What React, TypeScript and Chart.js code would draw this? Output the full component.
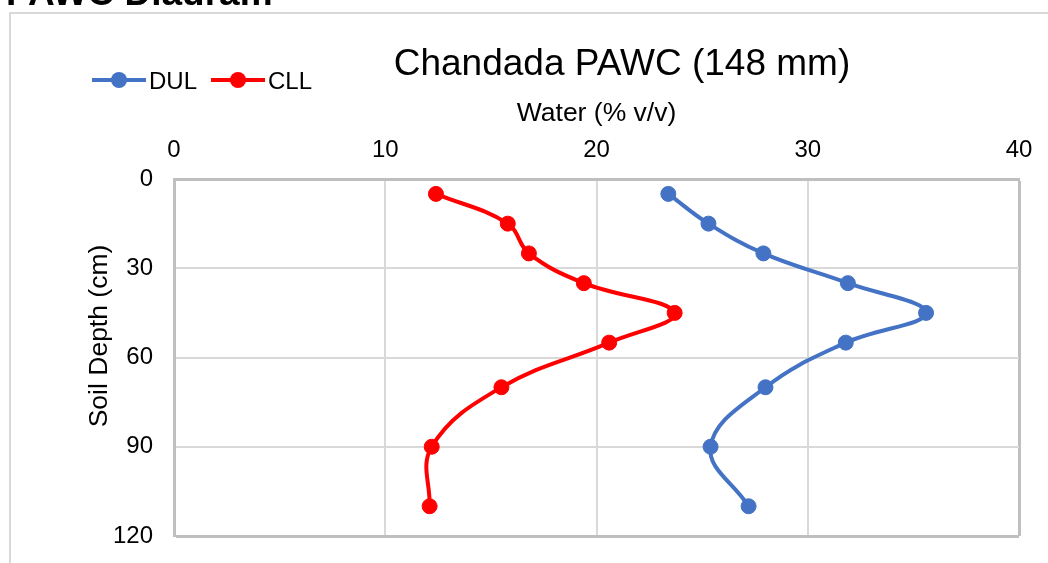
import React, { useEffect, useRef } from "react";
import { Chart, registerables } from "chart.js";

Chart.register(...registerables);

// ---- data ----
const depths = [5, 15, 25, 35, 45, 55, 70, 90, 110];
const dulValues = [23.4, 25.3, 27.9, 31.9, 35.6, 31.8, 28.0, 25.4, 27.2];
const cllValues = [12.4, 15.8, 16.8, 19.4, 23.7, 20.6, 15.5, 12.2, 12.1];
const seriesLabels = ["DUL", "CLL"];
const seriesColors = ["#4472C4", "#FF0000"];
const xTicks = [0, 10, 20, 30, 40];
const yTicks = [0, 30, 60, 90, 120];
const chartTitle = "Chandada PAWC (148 mm)";
const xTitle = "Water (% v/v)";
const yTitle = "Soil Depth (cm)";
const heading = "PAWC Diagram";

const FONT = "'Liberation Sans', Arial, Helvetica, sans-serif";
const W = 1048;
const H = 563;

const overlayPlugin = {
  id: "overlay",
  afterDraw(chart: any) {
    const ctx = chart.ctx as CanvasRenderingContext2D;
    ctx.save();
    // chart title
    ctx.fillStyle = "#000000";
    ctx.font = `37px ${FONT}`;
    ctx.textAlign = "center";
    ctx.textBaseline = "alphabetic";
    ctx.fillText(chartTitle, 622, 74.5);

    // legend
    const legendStarts = [92, 211];
    chart.data.datasets.forEach((ds: any, i: number) => {
      const x0 = legendStarts[i];
      const y = 80;
      ctx.strokeStyle = ds.borderColor;
      ctx.lineWidth = 4;
      ctx.beginPath();
      ctx.moveTo(x0, y);
      ctx.lineTo(x0 + 54, y);
      ctx.stroke();
      ctx.fillStyle = ds.borderColor;
      ctx.beginPath();
      ctx.arc(x0 + 27, y, 8, 0, Math.PI * 2);
      ctx.fill();
      ctx.fillStyle = "#000000";
      ctx.font = `24px ${FONT}`;
      ctx.textAlign = "left";
      ctx.textBaseline = "alphabetic";
      ctx.fillText(ds.label, x0 + 57, 88.5);
    });

    // y axis title
    ctx.translate(100, 336);
    ctx.rotate(-Math.PI / 2);
    ctx.fillStyle = "#000000";
    ctx.font = `26.5px ${FONT}`;
    ctx.textAlign = "center";
    ctx.textBaseline = "middle";
    ctx.fillText(yTitle, 0, 0);
    ctx.restore();
  },
};

export default function App() {
  const canvasRef = useRef<HTMLCanvasElement | null>(null);

  useEffect(() => {
    if (!canvasRef.current) return;
    const values = [dulValues, cllValues];
    const chart = new Chart(canvasRef.current, {
      type: "scatter",
      data: {
        datasets: values.map((vals, i) => ({
          label: seriesLabels[i],
          data: vals.map((v, k) => ({ x: v, y: depths[k] })),
          showLine: true,
          borderColor: seriesColors[i],
          backgroundColor: seriesColors[i],
          borderWidth: 4,
          tension: 0.4,
          pointRadius: 7.5,
          pointBorderWidth: 1,
          pointBackgroundColor: seriesColors[i],
          pointBorderColor: seriesColors[i],
          fill: false,
          clip: false,
        })),
      },
      options: {
        responsive: false,
        animation: false,
        layout: { padding: { left: 0, top: 0, right: 29, bottom: 27 } },
        plugins: {
          legend: { display: false },
          title: { display: false },
          tooltip: { enabled: false },
        },
        scales: {
          x: {
            type: "linear",
            position: "top",
            min: 0,
            max: 40,
            afterBuildTicks: (s: any) => {
              s.ticks = xTicks.map((v) => ({ value: v }));
            },
            afterFit: (s: any) => {
              s.height = 179;
              s.paddingLeft = 0;
              s.paddingRight = 0;
            },
            ticks: {
              color: "#000000",
              font: { family: FONT, size: 24 },
              padding: 14,
              maxRotation: 0,
            },
            title: {
              display: true,
              text: xTitle,
              color: "#000000",
              font: { family: FONT, size: 26.5 },
              padding: { top: 98, bottom: 0 },
            },
            grid: {
              drawTicks: false,
              color: (c: any) => (c.tick && c.tick.value === 40 ? "#BFBFBF" : "#D9D9D9"),
              lineWidth: (c: any) => (c.tick && c.tick.value === 40 ? 3 : 2),
            },
            border: { color: "#BFBFBF", width: 3 },
          },
          y: {
            type: "linear",
            position: "left",
            reverse: true,
            min: 0,
            max: 120,
            afterBuildTicks: (s: any) => {
              s.ticks = yTicks.map((v) => ({ value: v }));
            },
            afterFit: (s: any) => {
              s.width = 174;
              s.paddingTop = 0;
              s.paddingBottom = 0;
            },
            ticks: {
              color: "#000000",
              font: { family: FONT, size: 24 },
              padding: 21,
            },
            title: { display: false },
            grid: {
              drawTicks: false,
              color: (c: any) => (c.tick && c.tick.value === 120 ? "#BFBFBF" : "#D9D9D9"),
              lineWidth: (c: any) => (c.tick && c.tick.value === 120 ? 3 : 2),
            },
            border: { color: "#BFBFBF", width: 3 },
          },
        },
      },
      plugins: [overlayPlugin],
    } as any);
    return () => chart.destroy();
  }, []);

  return (
    <div
      style={{
        position: "absolute",
        left: 0,
        top: 0,
        width: W,
        height: H,
        overflow: "hidden",
        background: "#ffffff",
      }}
    >
      <div
        style={{
          position: "absolute",
          left: 9,
          top: 12,
          width: 1200,
          height: 700,
          border: "2px solid #D9D9D9",
          background: "#ffffff",
          boxSizing: "border-box",
        }}
      />
      <canvas
        ref={canvasRef}
        width={W}
        height={H}
        style={{ position: "absolute", left: 0, top: 0, width: W, height: H }}
      />
      <div
        style={{
          position: "absolute",
          left: 0,
          top: 0,
          width: 400,
          height: 5,
          overflow: "hidden",
        }}
      >
        <div
          style={{
            position: "absolute",
            left: 6,
            top: -26.3,
            font: `bold 37px ${FONT}`,
            lineHeight: "37px",
            whiteSpace: "nowrap",
            color: "#000000",
          }}
        >
          {heading}
        </div>
      </div>
    </div>
  );
}
